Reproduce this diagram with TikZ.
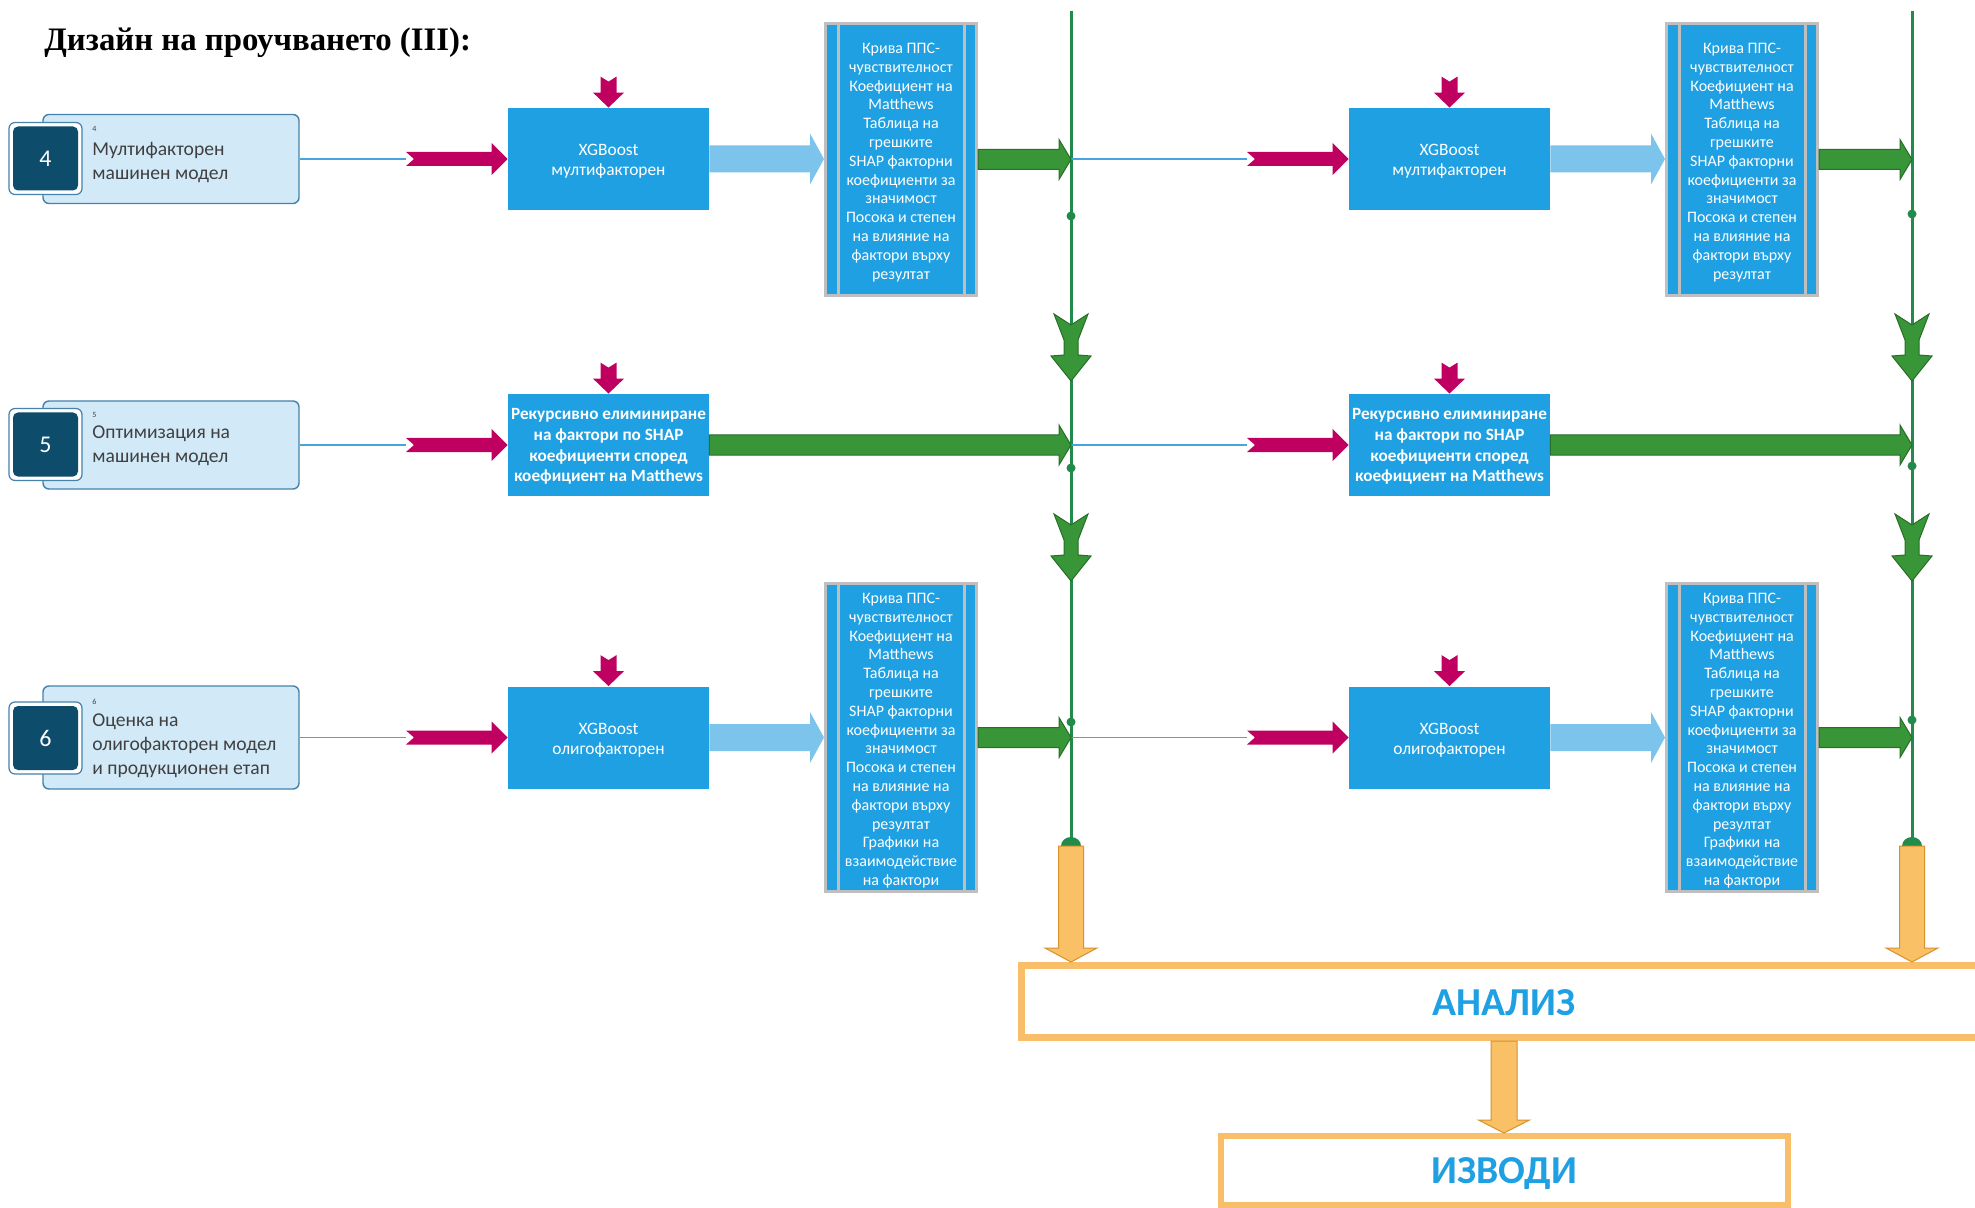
\documentclass[tikz,border=0pt]{standalone}
\usepackage{fontspec}
\setmainfont{Carlito}
\newfontfamily\titlefont{Liberation Serif}
\usetikzlibrary{calc}

\definecolor{xblue}{RGB}{30,160,226}
\definecolor{lightarrow}{RGB}{125,196,237}
\definecolor{pinkc}{RGB}{192,0,96}
\definecolor{gfill}{RGB}{56,150,56}
\definecolor{gdark}{RGB}{40,110,40}
\definecolor{gline}{RGB}{34,139,76}
\definecolor{ofill}{RGB}{250,192,102}
\definecolor{odark}{RGB}{215,145,45}
\definecolor{oborder}{RGB}{248,190,105}
\definecolor{lboxfill}{RGB}{210,234,248}
\definecolor{lboxline}{RGB}{70,130,170}
\definecolor{darkbox}{RGB}{14,76,108}
\definecolor{thinblue}{RGB}{70,165,220}
\definecolor{greyb}{RGB}{191,191,191}
\definecolor{textgrey}{RGB}{64,64,64}

\tikzset{
  % horizontal block arrow: shaft half-height, head half-height, head length, tail notch
  blockR/.style n args={4}{to path={let \p1=(\tikztostart),\p2=(\tikztotarget) in
    (\x1,\y1+#1) -- (\x2-#3,\y1+#1) -- (\x2-#3,\y1+#2) -- (\x2,\y1) -- (\x2-#3,\y1-#2)
    -- (\x2-#3,\y1-#1) -- (\x1,\y1-#1) -- (\x1+#4,\y1) -- cycle}},
  % downward block arrow: shaft half-width, head half-width, head length, tail notch
  blockD/.style n args={4}{to path={let \p1=(\tikztostart),\p2=(\tikztotarget) in
    (\x1-#1,\y1) -- (\x1,\y1-#4) -- (\x1+#1,\y1) -- (\x1+#1,\y2+#3) -- (\x1+#2,\y2+#3)
    -- (\x1,\y2) -- (\x1-#2,\y2+#3) -- (\x1-#1,\y2+#3) -- cycle}},
  pinkR/.style={fill=pinkc, blockR={3.5pt}{8pt}{8pt}{4pt}},
  pinkD/.style={fill=pinkc, blockD={4pt}{7.75pt}{7.5pt}{2.5pt}},
  lbR/.style={fill=lightarrow, blockR={6.75pt}{12.75pt}{7pt}{0pt}},
  gR/.style={fill=gfill, draw=gdark, line width=0.5pt, blockR={5pt}{10pt}{6pt}{0pt}},
  oD/.style={fill=ofill, draw=odark, line width=0.5pt, blockD={6.25pt}{13pt}{7pt}{0pt}},
  oD2/.style={fill=ofill, draw=odark, line width=0.5pt, blockD={6.5pt}{12.75pt}{6.5pt}{0pt}},
  thinline/.style={draw=thinblue, line width=0.75pt},
  lbox/.style={draw=lboxline, fill=lboxfill, rounded corners=3pt, line width=0.7pt,
    minimum width=128pt, inner sep=0pt},
  framebox/.style={draw=lboxline, fill=white, rounded corners=3pt, line width=0.6pt,
    minimum width=36.5pt, minimum height=36pt, inner sep=0pt},
  numbox/.style={fill=darkbox, rounded corners=2.5pt, minimum width=32.5pt,
    minimum height=32pt, inner sep=0pt, text=white, font=\fontsize{12}{14}\selectfont},
  tinynum/.style={anchor=west, inner sep=0pt, text=textgrey, font=\fontsize{4}{5}\selectfont},
  ltext/.style={anchor=west, align=left, inner sep=0pt, text=textgrey,
    font=\fontsize{9.8}{12}\selectfont},
  xbox/.style={fill=xblue, minimum width=100.5pt, minimum height=51pt, inner sep=0pt},
  xtext/.style={text=white, align=center, inner sep=0pt, font=\fontsize{8.7}{10.1}\selectfont},
  xbold/.style={text=white, align=center, inner sep=0pt, font=\bfseries\fontsize{8.6}{10.3}\selectfont},
  rbox/.style={fill=xblue, draw=greyb, line width=1.5pt, minimum width=75.5pt, inner sep=0pt},
  rtext/.style={text=white, align=center, inner sep=0pt, font=\fontsize{8}{9.4}\selectfont},
  rline/.style={draw=greyb, line width=1.5pt},
  glinestyle/.style={draw=gline, line width=1.5pt},
  gdot/.style={circle, fill=gline, inner sep=0pt, minimum size=4.5pt},
  obox/.style={draw=oborder, fill=white, inner sep=0pt},
  otext/.style={text=xblue, inner sep=0pt, font=\bfseries\fontsize{19.8}{22}\selectfont},
  gchevron/.pic={\filldraw[fill=gfill, draw=gdark, line width=0.5pt]
    (-8.5pt,0pt) -- (0pt,-5.5pt) -- (8.5pt,0pt) -- (3.5pt,-13pt) -- (3.5pt,-20.5pt)
    -- (10pt,-21pt) -- (0pt,-33.5pt) -- (-10pt,-21pt) -- (-3.5pt,-20.5pt)
    -- (-3.5pt,-13pt) -- cycle;},
}

\begin{document}
\begin{tikzpicture}[x=0.5pt, y=-0.5pt]
\useasboundingbox (0,0) rectangle (1975,1208);
\clip (0,0) rectangle (1975,1208);
\fill[white] (0,0) rectangle (1975,1208);

% title
\node[anchor=base west, inner sep=0pt, font=\titlefont\bfseries\fontsize{16.4}{20}\selectfont]
  (title) at (44,51) {Дизайн на проучването (III):};

% stage labels on the left
\node[lbox, minimum height=44.5pt] (L1) at (171,159) {};
\node[lbox, minimum height=44pt] (L2) at (171,445) {};
\node[lbox, minimum height=51.5pt] (L3) at (171,737.5) {};
\node[framebox] (F1) at (45.5,158.5) {};
\node[framebox] (F2) at (45.5,444.5) {};
\node[framebox] (F3) at (45.5,738) {};
\node[numbox] (N1) at (45.5,158.5) {4};
\node[numbox] (N2) at (45.5,444.5) {5};
\node[numbox] (N3) at (45.5,738) {6};
\node[tinynum] (s1) at (92,129) {4};
\node[tinynum] (s2) at (92,415) {5};
\node[tinynum] (s3) at (92,702) {6};
\node[ltext] (T1) at (92,162) {Мултифакторен\\машинен модел};
\node[ltext] (T2) at (92,446) {Оптимизация на\\машинен модел};
\node[ltext] (T3) at (92,745.5) {Оценка на\\олигофакторен модел\\и продукционен етап};

% model boxes
\node[xbox] (X11) at (608.5,159) {};
\node[xbox] (X21) at (608.5,445) {};
\node[xbox] (X31) at (608.5,737.5) {};
\node[xbox] (X12) at (1449.5,159) {};
\node[xbox] (X22) at (1449.5,445) {};
\node[xbox] (X32) at (1449.5,737.5) {};
\node[xtext] (X11t) at ([yshift=-1.2pt]X11.center) {XGBoost\\мултифакторен};
\node[xtext] (X31t) at ([yshift=-1.2pt]X31.center) {XGBoost\\олигофакторен};
\node[xtext] (X12t) at ([yshift=-1.2pt]X12.center) {XGBoost\\мултифакторен};
\node[xtext] (X32t) at ([yshift=-1.2pt]X32.center) {XGBoost\\олигофакторен};
\node[xbold] (X21t) at ([yshift=-0.8pt]X21.center)
  {Рекурсивно елиминиране\\на фактори по SHAP\\коефициенти според\\коефициент на Matthews};
\node[xbold] (X22t) at ([yshift=-0.8pt]X22.center)
  {Рекурсивно елиминиране\\на фактори по SHAP\\коефициенти според\\коефициент на Matthews};

% result boxes
\newcommand\reslines{Крива ППС-\\чувствителност\\Коефициент на\\Matthews\\Таблица на\\грешките\\SHAP факторни\\коефициенти за\\значимост\\Посока и степен\\на влияние на\\фактори върху\\резултат}
\node[rbox, minimum height=136pt] (R11) at (901,159.5) {};
\node[rbox, minimum height=154pt] (R31) at (901,737.5) {};
\node[rbox, minimum height=136pt] (R12) at (1742,159.5) {};
\node[rbox, minimum height=154pt] (R32) at (1742,737.5) {};
\foreach \r in {R11,R31,R12,R32}{
  \draw[rline] ([xshift=7pt]\r.north west) -- ([xshift=7pt]\r.south west);
  \draw[rline] ([xshift=-7pt]\r.north east) -- ([xshift=-7pt]\r.south east);
}
\node[rtext] (R11t) at ([yshift=-1.4pt]R11.center) {\reslines};
\node[rtext] (R31t) at ([yshift=-1.6pt]R31.center) {\reslines\\Графики на\\взаимодействие\\на фактори};
\node[rtext] (R12t) at ([yshift=-1.4pt]R12.center) {\reslines};
\node[rtext] (R32t) at ([yshift=-1.6pt]R32.center) {\reslines\\Графики на\\взаимодействие\\на фактори};

% vertical collector lines
\coordinate (gt1) at (1071,11);
\coordinate (gb1) at (1071,846);
\coordinate (gt2) at (1912,11);
\coordinate (gb2) at (1912,846);
\coordinate (gm11) at (1071,159);
\coordinate (gm21) at (1071,445);
\coordinate (gm31) at (1071,737.5);
\coordinate (gm12) at (1912,159);
\coordinate (gm22) at (1912,445);
\coordinate (gm32) at (1912,737.5);
\draw[glinestyle] (gt1) -- (gb1);
\draw[glinestyle] (gt2) -- (gb2);

% pink arrow tails
\coordinate (pk11) at (406,159);
\coordinate (pk21) at (406,445);
\coordinate (pk31) at (406,737.5);
\coordinate (pk12) at (1247,159);
\coordinate (pk22) at (1247,445);
\coordinate (pk32) at (1247,737.5);

% thin connectors
\draw[thinline] (L1.east) -- (pk11);
\draw[thinline] (L2.east) -- (pk21);
\draw[thinline] (L3.east) -- (pk31);
\draw[thinline] (gm11) -- (pk12);
\draw[thinline] (gm21) -- (pk22);
\draw[thinline] (gm31) -- (pk32);

% pink input arrows
\path[pinkR] (pk11) to (X11.west);
\path[pinkR] (pk21) to (X21.west);
\path[pinkR] (pk31) to (X31.west);
\path[pinkR] (pk12) to (X12.west);
\path[pinkR] (pk22) to (X22.west);
\path[pinkR] (pk32) to (X32.west);
\foreach \b in {X11,X21,X31,X12,X22,X32}{
  \path[pinkD] ([yshift=15.5pt]\b.north) to (\b.north);
}

% light blue arrows to result boxes
\path[lbR] (X11.east) to (R11.west);
\path[lbR] (X31.east) to (R31.west);
\path[lbR] (X12.east) to (R12.west);
\path[lbR] (X32.east) to (R32.west);

% green arrows to collector lines
\path[gR] (R11.east) to (gm11);
\path[gR] (X21.east) to (gm21);
\path[gR] (R31.east) to (gm31);
\path[gR] (R12.east) to (gm12);
\path[gR] (X22.east) to (gm22);
\path[gR] (R32.east) to (gm32);

% junction dots
\node[gdot] (d11) at (1071,216) {};
\node[gdot] (d21) at (1071,468) {};
\node[gdot] (d31) at (1071,722) {};
\node[gdot] (d12) at (1912,214) {};
\node[gdot] (d22) at (1912,466) {};
\node[gdot] (d32) at (1912,720) {};

% downward chevrons on the collector lines
\pic at (1071,314) {gchevron};
\pic at (1071,514) {gchevron};
\pic at (1912,314) {gchevron};
\pic at (1912,514) {gchevron};

% analysis and conclusions
\node[obox, line width=3.5pt, minimum width=482.5pt, minimum height=36pt] (AN)
  at (1504,1001.5) {};
\node[obox, line width=3pt, minimum width=283.5pt, minimum height=34.5pt] (IZ)
  at (1504.5,1170.5) {};
\node[otext] (ANt) at ([yshift=-0.4pt]AN.center) {АНАЛИЗ};
\node[otext] (IZt) at ([yshift=-1.6pt]IZ.center) {ИЗВОДИ};

% line ends above the orange arrows
\fill[gline] (gb1) ++(-5pt,0pt) arc[start angle=180, end angle=0, x radius=5pt, y radius=4.5pt] -- cycle;
\fill[gline] (gb2) ++(-5pt,0pt) arc[start angle=180, end angle=0, x radius=5pt, y radius=4.5pt] -- cycle;

\path[oD] (gb1) to (gb1 |- AN.north);
\path[oD] (gb2) to (gb2 |- AN.north);
\path[oD2] (AN.south) to (IZ.north);
\end{tikzpicture}
\end{document}
